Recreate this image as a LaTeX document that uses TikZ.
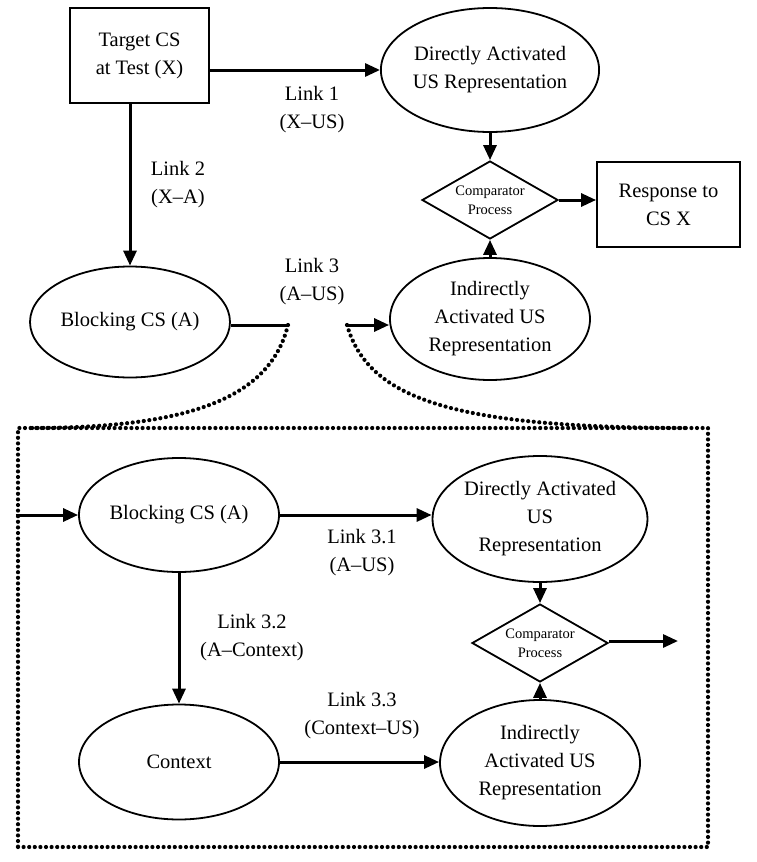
\documentclass[tikz,border=0pt]{standalone}
\usepackage{fontspec}
\setmainfont{Liberation Serif}
\usetikzlibrary{shapes.geometric, positioning, arrows.meta}

\begin{document}
\begin{tikzpicture}[
			x=1pt, y=-1pt,
			every node/.style={
				font=\fontsize{20.5}{28}\selectfont,
				align=center
			},
			oval/.style={
				draw,
				ellipse,
				line width=1.8pt,
				minimum width=200pt,
				inner sep=0pt
			},
			box/.style={
				draw,
				rectangle,
				line width=1.8pt
			},
			compare/.style={
				draw,
				diamond,
				aspect=1.75,
				line width=1.8pt,
				minimum width=136pt,
				minimum height=78pt,
				inner sep=0pt,
				font=\fontsize{14.5}{19}\selectfont
			},
			link/.style={
				line width=3pt,
				-{Triangle[length=15pt,width=13pt]}
			},
			plain/.style={
				line width=3pt
			},
			dots/.style={
				line width=4.2pt,
				line cap=round,
				dash pattern=on 0pt off 5.6pt
			}
			]
			\useasboundingbox (0,0) rectangle (756,862);
			
			% Upper model
			\node[box, minimum width=139pt, minimum height=95pt] (target) at (139.5,55.5) {Target CS\\at Test (X)};
			\node[oval, minimum height=124pt] (direct) at (490,70) {Directly Activated\\US Representation};
			\node[compare] (comp) at (490,200) {Comparator\\Process};
			\node[box, minimum width=143pt, minimum height=85pt] (resp) at (668.5,204.5) {Response to\\CS X};
			\node[oval, minimum height=122pt] (indirect) at (490,319) {Indirectly\\Activated US\\Representation};
			\node[oval, minimum height=111pt] (block) at (130,322) {Blocking CS (A)};
			\coordinate (cutl) at (288,325);
			\coordinate (cutr) at (347,325);
			
			% Labels
			\node (l1) at (312,110) {Link 1\\(X--US)};
			\node (l2) at (178,185) {Link 2\\(X--A)};
			\node (l3) at (312,282) {Link 3\\(A--US)};
			
			% Connections
			\draw[link] (target.east |- direct.west) -- (direct.west);
			\draw[link] (target.south -| block.north) -- (block.north);
			\draw[link] (direct) -- (comp);
			\draw[link] (indirect) -- (comp);
			\draw[link] (comp.east) -- (comp.east -| resp.west);
			\draw[plain] (block.east |- cutl) -- (cutl);
			\draw[link] (cutr) -- (cutr -| indirect.west);
			
			% Expanded link 3
			\node[dots, draw, minimum width=690pt, minimum height=419pt] (inset) at (363,637.5) {};
			\draw[dots] (cutl) .. controls (270,398) and (190,428) .. (30,428);
			\draw[dots] (cutr) .. controls (368,398) and (450,428) .. (690,428);
			
			\node[oval, minimum height=114pt] (block2) at (179,515) {Blocking CS (A)};
			\node[oval, minimum height=126pt] (direct2) at (540,519) {Directly Activated\\US\\Representation};
			\node[compare] (comp2) at (540,643) {Comparator\\Process};
			\node[oval, minimum height=126pt] (indirect2) at (540,763) {Indirectly\\Activated US\\Representation};
			\node[oval, minimum height=115pt] (context) at (179,762) {Context};
			\coordinate (out) at (678,641);
			
			\node (l31) at (362,553) {Link 3.1\\(A--US)};
			\node (l32) at (252,638) {Link 3.2\\(A--Context)};
			\node (l33) at (362,716) {Link 3.3\\(Context--US)};
			
			\draw[link] (inset.west |- block2.west) -- (block2.west);
			\draw[link] (block2.east) -- (block2.east -| direct2.west);
			\draw[link] (block2) -- (context);
			\draw[link] (context.east) -- (context.east -| indirect2.west);
			\draw[link] (direct2) -- (comp2);
			\draw[link] (indirect2) -- (comp2);
			\draw[link] (comp2.east |- out) -- (out);
		\end{tikzpicture}
\end{document}
